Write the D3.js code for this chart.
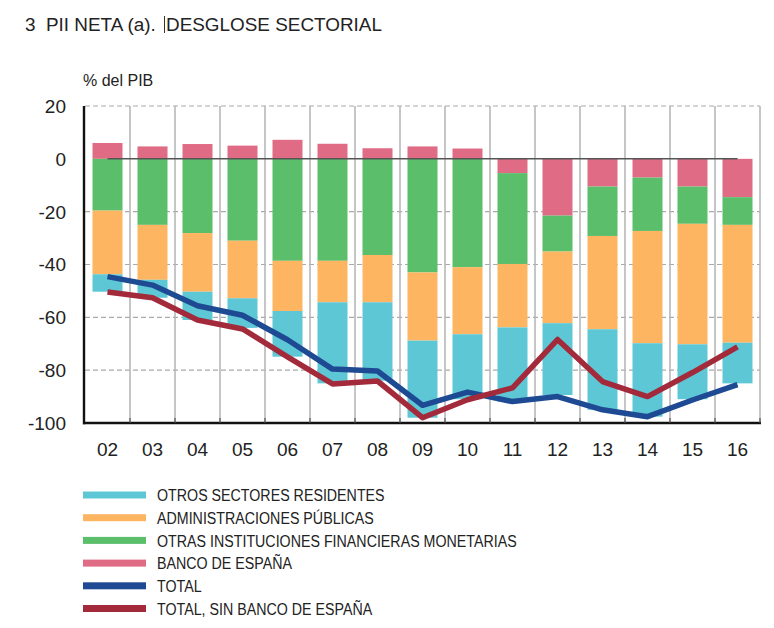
<!DOCTYPE html>
<html><head><meta charset="utf-8">
<script src="https://cdn.jsdelivr.net/npm/d3@7"></script>
<style>
body{margin:0;background:#fff;}
svg{display:block;font-family:"Liberation Sans",Arial,Helvetica,sans-serif;}
</style></head>
<body><svg id="c" width="774" height="628"></svg>
<script>
const years = ["02","03","04","05","06","07","08","09","10","11","12","13","14","15","16"];
const bancoEspana = [6, 4.7, 5.6, 5, 7.2, 5.7, 4, 4.7, 3.9, -5.4, -21.5, -10.5, -7.1, -10.5, -14.5];
const otrasIFM = [-19.6, -25, -28.1, -31, -38.6, -38.6, -36.4, -43, -41, -34.4, -13.6, -18.7, -20.2, -14.1, -10.5];
const admPublicas = [-24.1, -20.8, -22.2, -21.8, -19, -15.7, -17.9, -25.8, -25.4, -24, -27.1, -35.3, -42.5, -45.6, -44.6];
const otrosSectores = [-6.6, -6.8, -10.7, -11.2, -17.3, -30.7, -29.7, -29.2, -24.6, -28.1, -27.2, -30.5, -27.8, -20.8, -15.4];
const total = [-44.6, -47.8, -55.6, -59.2, -68.5, -79.6, -80.3, -93.3, -88.3, -91.9, -90, -95, -97.6, -91.3, -85.5];
const totalSinBE = [-50.4, -52.6, -61, -64.4, -75, -85.2, -84.1, -98, -91.2, -86.7, -68.4, -84.3, -90, -80.9, -71.2];
const yTicks = [20, 0, -20, -40, -60, -80, -100];

const seriesInfo = [
  {key:"be", name:"BANCO DE ESPAÑA", color:"#DF6B84", vals:bancoEspana},
  {key:"oifm", name:"OTRAS  INSTITUCIONES FINANCIERAS MONETARIAS", color:"#5BBE6B", vals:otrasIFM},
  {key:"aapp", name:"ADMINISTRACIONES PÚBLICAS", color:"#FDB562", vals:admPublicas},
  {key:"osr", name:"OTROS SECTORES RESIDENTES", color:"#5EC7D5", vals:otrosSectores}
];
const lineInfo = [
  {name:"TOTAL", color:"#1D4A93", vals:total},
  {name:"TOTAL, SIN BANCO DE ESPAÑA", color:"#A32A3B", vals:totalSinBE}
];

const svg = d3.select("#c");
const L = 85, R = 760, T = 106, B = 423;
const x = d3.scaleBand().domain(years).range([L, R]).paddingInner(1/3).paddingOuter(1/6);
const xb = d3.scaleBand().domain(years).range([L, R]).padding(0);
const y = d3.scaleLinear().domain([-100, 20]).range([B, T]);
const cx = d => xb(d) + xb.bandwidth()/2;

// title
const title = svg.append("g");
title.append("text").attr("x", 25).attr("y", 31).attr("font-size", 18.9).attr("fill", "#222")
  .style("white-space", "pre").text("3  PII NETA (a).");
title.append("line").attr("x1", 164.5).attr("x2", 164.5).attr("y1", 16).attr("y2", 33).attr("stroke", "#333").attr("stroke-width", 1);
title.append("text").attr("x", 166).attr("y", 31).attr("font-size", 18.9).attr("fill", "#222").text("DESGLOSE SECTORIAL");
svg.append("text").attr("x", 83).attr("y", 86).attr("font-size", 16).attr("fill", "#222").text("% del PIB");

// horizontal dashed gridlines
svg.append("g").selectAll("line").data(yTicks.filter(v => v !== 0 && v !== -100)).join("line")
  .attr("x1", L).attr("x2", R).attr("y1", d => y(d)).attr("y2", d => y(d))
  .attr("stroke", "#aaa").attr("stroke-width", 1.2).attr("stroke-dasharray", "5,3");

// vertical gridlines at band boundaries
const bounds = years.slice(1).map(d => xb(d)).concat([R]);
svg.append("g").selectAll("line").data(bounds).join("line")
  .attr("x1", d => d).attr("x2", d => d).attr("y1", T).attr("y2", B)
  .attr("stroke", "#b3b3b3").attr("stroke-width", 1.5);

// stacked bars
const table = years.map((yr, i) => {
  const o = {year: yr};
  seriesInfo.forEach(s => o[s.key] = s.vals[i]);
  return o;
});
const stack = d3.stack().keys(seriesInfo.map(s => s.key)).offset(d3.stackOffsetDiverging);
const stacked = stack(table);
svg.append("g").selectAll("g").data(stacked).join("g")
  .attr("fill", (d, i) => seriesInfo[i].color)
  .selectAll("rect").data(d => d).join("rect")
  .attr("x", d => x(d.data.year)).attr("width", x.bandwidth())
  .attr("y", d => y(Math.max(d[0], d[1]))).attr("height", d => Math.abs(y(d[0]) - y(d[1])));

// zero line
svg.append("line").attr("x1", cx(years[0])).attr("x2", cx(years[years.length-1]))
  .attr("y1", y(0)).attr("y2", y(0)).attr("stroke", "#555").attr("stroke-width", 1.5);

// lines
const line = d3.line().x((d, i) => cx(years[i])).y(d => y(d));
lineInfo.forEach(s => {
  svg.append("path").datum(s.vals).attr("d", line).attr("fill", "none")
    .attr("stroke", s.color).attr("stroke-width", 5.5).attr("stroke-linejoin", "round");
});

// axes
svg.append("line").attr("x1", 84).attr("x2", 84).attr("y1", T).attr("y2", B + 1.2).attr("stroke", "#111").attr("stroke-width", 2.4);
svg.append("line").attr("x1", 83).attr("x2", R + 1).attr("y1", B).attr("y2", B).attr("stroke", "#111").attr("stroke-width", 2.4);
svg.append("g").selectAll("line").data(bounds).join("line")
  .attr("x1", d => d).attr("x2", d => d).attr("y1", B - 5).attr("y2", B).attr("stroke", "#555").attr("stroke-width", 1.2);

// y tick labels
svg.append("g").selectAll("text").data(yTicks).join("text")
  .attr("x", 66).attr("y", d => y(d)).attr("dy", "0.36em").attr("text-anchor", "end")
  .attr("font-size", 19).attr("fill", "#222").text(d => d);

// x tick labels
svg.append("g").selectAll("text").data(years).join("text")
  .attr("x", d => cx(d)).attr("y", 456).attr("text-anchor", "middle")
  .attr("font-size", 19).attr("fill", "#222").text(d => d);

// legend
const legendItems = [seriesInfo[3], seriesInfo[2], seriesInfo[1], seriesInfo[0], lineInfo[0], lineInfo[1]];
const lg = svg.append("g");
const rows = lg.selectAll("g").data(legendItems).join("g")
  .attr("transform", (d, i) => `translate(0,${495 + i * 22.7})`);
rows.append("rect").attr("x", 83).attr("y", -3.5).attr("width", 63).attr("height", 7).attr("fill", d => d.color);
const texts = rows.append("text").attr("x", 0).attr("y", 0).attr("dy", "0.36em")
  .attr("font-size", 17).attr("fill", "#222").text(d => d.name);
let maxW = 0;
texts.each(function(){ maxW = Math.max(maxW, this.getComputedTextLength()); });
const sx = 360 / maxW;
texts.attr("transform", `translate(157,0) scale(${sx},1)`);
</script></body></html>
